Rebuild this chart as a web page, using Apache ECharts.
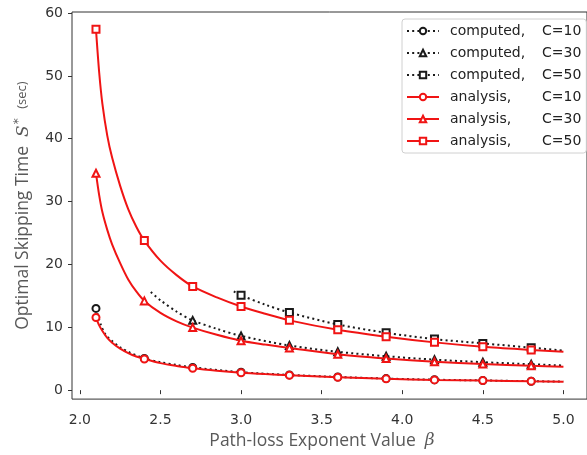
<!DOCTYPE html>
<html><head><meta charset="utf-8">
<script src="https://cdn.jsdelivr.net/npm/echarts@6/dist/echarts.min.js"></script>
<style>html,body{margin:0;padding:0;background:#fff}#c{width:587px;height:455px}</style>
</head><body><div id="c"></div>
<script>
// ---- tick labels ----
const xTicks = [2.0, 2.5, 3.0, 3.5, 4.0, 4.5, 5.0];
const yTicks = [0, 10, 20, 30, 40, 50, 60];

// ---- analysis curves ----
const analysisBeta = [2.1, 2.12, 2.14, 2.17, 2.2, 2.25, 2.3, 2.35, 2.4, 2.5, 2.6, 2.7, 2.85, 3.0, 3.15, 3.3, 3.6, 3.9, 4.2, 4.5, 4.8, 5.0];
const analysisC10 = [11.55, 10.3, 9.4, 8.3, 7.55, 6.6, 5.9, 5.35, 4.96, 4.3, 3.85, 3.48, 3.08, 2.77, 2.55, 2.37, 2.06, 1.8, 1.63, 1.52, 1.4, 1.33];
const analysisC30 = [34.5, 31.0, 28.3, 25.5, 23.2, 20.2, 17.6, 15.7, 14.2, 12.3, 10.95, 9.95, 8.8, 7.86, 7.25, 6.72, 5.7, 5.02, 4.5, 4.14, 3.87, 3.72];
const analysisC50 = [57.4, 50.5, 45.5, 40.5, 37.0, 32.5, 28.8, 26.0, 23.8, 20.6, 18.3, 16.5, 14.75, 13.3, 12.15, 11.1, 9.6, 8.5, 7.6, 6.9, 6.4, 6.1];
const analysisMarked = [2.1, 2.4, 2.7, 3.0, 3.3, 3.6, 3.9, 4.2, 4.5, 4.8];

// ---- computed curves ----
const computedC10Beta = [2.1, 2.13, 2.16, 2.2, 2.25, 2.3, 2.4, 2.5, 2.6, 2.7, 3.0, 3.3, 3.6, 3.9, 4.2, 4.5, 4.8, 5.0];
const computedC10 = [13.0, 10.4, 8.8, 7.8, 6.8, 6.1, 5.05, 4.45, 4.0, 3.62, 2.85, 2.42, 2.1, 1.84, 1.66, 1.54, 1.42, 1.36];
const computedC30Beta = [2.44, 2.5, 2.6, 2.7, 2.85, 3.0, 3.3, 3.6, 3.9, 4.2, 4.5, 4.8, 5.0];
const computedC30 = [15.6, 14.3, 12.5, 11.1, 9.75, 8.63, 7.1, 6.1, 5.4, 4.85, 4.45, 4.12, 3.92];
const computedC50Beta = [2.955, 3.0, 3.15, 3.3, 3.6, 3.9, 4.2, 4.5, 4.8, 5.0];
const computedC50 = [15.7, 15.1, 13.6, 12.35, 10.45, 9.13, 8.12, 7.44, 6.76, 6.28];
const computedMarked = [2.1, 2.4, 2.7, 3.0, 3.3, 3.6, 3.9, 4.2, 4.5, 4.8];

const legendNames = ['computed, C=10', 'computed, C=30', 'computed, C=50', 'analysis, C=10', 'analysis, C=30', 'analysis, C=50'];

const RED = '#f01414';
const BLACK = '#1a1a1a';

function pts(xs, ys, marked) {
  return xs.map((x, i) => {
    const on = marked.some(m => Math.abs(m - x) < 1e-9);
    return on ? { value: [x, ys[i]] } : { value: [x, ys[i]], symbol: 'none' };
  });
}
function computed(name, xs, ys, sym) {
  return {
    name, type: 'line', data: pts(xs, ys, computedMarked), z: 2,
    symbol: sym, symbolSize: 7, smooth: 0.3,
    lineStyle: { color: BLACK, width: 2, type: [2, 3.2], cap: 'butt' },
    itemStyle: { color: BLACK, borderWidth: 1.3 },
    emphasis: { disabled: true }, animation: false
  };
}
function analysis(name, ys, sym) {
  return {
    name, type: 'line', data: pts(analysisBeta, ys, analysisMarked), z: 3,
    symbol: sym, symbolSize: 7, smooth: 0.3,
    lineStyle: { color: RED, width: 2 },
    itemStyle: { color: RED, borderWidth: 1.3 },
    emphasis: { disabled: true }, animation: false
  };
}

const chart = echarts.init(document.getElementById('c'), null, { renderer: 'canvas' });
chart.setOption({
  backgroundColor: '#fff',
  animation: false,
  grid: { left: 72, top: 12, width: 524, height: 389, show: true, borderColor: '#333', borderWidth: 1, backgroundColor: 'transparent' },
  xAxis: {
    type: 'value', min: 1.9512, max: 5.1462,
    name: 'Path-loss Exponent Value  {b|β}', nameLocation: 'middle', nameGap: 30,
    nameTextStyle: { fontFamily: 'Open Sans', fontSize: 17.5, color: '#595959', padding: [0, 15, 0, 0],
      rich: { b: { fontFamily: 'DejaVu Serif', fontStyle: 'italic', fontSize: 17, color: '#595959' } } },
    axisLine: { show: false },
    axisTick: { show: true, inside: false, length: 4, customValues: xTicks, lineStyle: { color: '#333' } },
    axisLabel: { customValues: xTicks, formatter: v => v.toFixed(1), margin: 14, fontFamily: 'DejaVu Sans', fontSize: 14, color: '#333' },
    splitLine: { show: false }
  },
  yAxis: {
    type: 'value', min: -1.425, max: 60.16,
    name: 'Optimal Skipping Time  {s|S}{sup|*} {u|(sec)}', nameLocation: 'middle', nameGap: 38, nameRotate: 90,
    nameTextStyle: { fontFamily: 'Open Sans', fontSize: 17.5, color: '#595959', padding: [0, 0, 0, 0],
      rich: {
        s: { fontFamily: 'DejaVu Serif', fontStyle: 'italic', fontSize: 17, color: '#595959' },
        sup: { fontFamily: 'DejaVu Sans', fontSize: 12, color: '#595959', verticalAlign: 'top', padding: [0, 5, 9, 1] },
        u: { fontFamily: 'Open Sans', fontSize: 13, color: '#595959', padding: [0, 0, 3, 0] }
      } },
    axisLine: { show: false },
    axisTick: { show: true, inside: false, length: 4, customValues: yTicks, lineStyle: { color: '#333' } },
    axisLabel: { customValues: yTicks, margin: 9, fontFamily: 'DejaVu Sans', fontSize: 14, color: '#333' },
    splitLine: { show: false }
  },
  legend: {
    orient: 'vertical', left: 402, top: 19, padding: [5, 5, 5, 4],
    itemWidth: 32, itemHeight: 8, itemGap: 8,
    backgroundColor: 'rgba(255,255,255,0.85)', borderColor: '#d0d0d0', borderWidth: 1, borderRadius: 3,
    data: legendNames,
    formatter: n => { const p = n.split(', '); return '{a|' + p[0] + ',}{b|' + p[1] + '}'; },
    textStyle: { fontFamily: 'DejaVu Sans', fontSize: 14, lineHeight: 14, color: '#222', padding: [0, 0, 0, 6],
      rich: { a: { width: 92, fontFamily: 'DejaVu Sans', fontSize: 14, lineHeight: 14, color: '#222' }, b: { fontFamily: 'DejaVu Sans', fontSize: 14, lineHeight: 14, color: '#222' } } }
  },
  series: [
    computed(legendNames[0], computedC10Beta, computedC10, 'emptyCircle'),
    computed(legendNames[1], computedC30Beta, computedC30, 'emptyTriangle'),
    computed(legendNames[2], computedC50Beta, computedC50, 'emptyRect'),
    analysis(legendNames[3], analysisC10, 'emptyCircle'),
    analysis(legendNames[4], analysisC30, 'emptyTriangle'),
    analysis(legendNames[5], analysisC50, 'emptyRect')
  ]
});
</script>
</body></html>
